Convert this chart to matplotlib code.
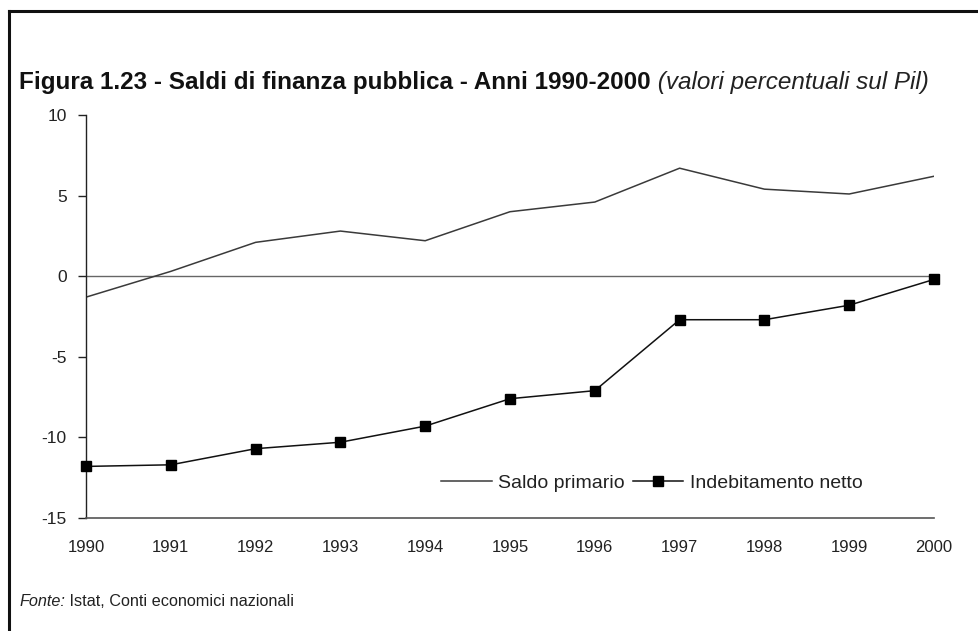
import matplotlib
matplotlib.use("Agg")
import matplotlib.pyplot as plt
from matplotlib.lines import Line2D

plt.rcParams['font.family'] = ['Liberation Sans', 'DejaVu Sans']

years = [1990, 1991, 1992, 1993, 1994, 1995, 1996, 1997, 1998, 1999, 2000]
saldo_primario = [-1.3, 0.3, 2.1, 2.8, 2.2, 4.0, 4.6, 6.7, 5.4, 5.1, 6.2]
indebitamento_netto = [-11.8, -11.7, -10.7, -10.3, -9.3, -7.6, -7.1, -2.7, -2.7, -1.8, -0.2]
y_ticks = [10, 5, 0, -5, -10, -15]

W, H = 979, 631
fig = plt.figure(figsize=(W / 100, H / 100), dpi=100)

# axes box in pixel coordinates
x0, x1 = 86, 934
y_top, y_bot = 115, 518
ax = fig.add_axes([x0 / W, 1 - y_bot / H, (x1 - x0) / W, (y_bot - y_top) / H])

ax.axhline(0, color='#666666', lw=1.0, zorder=1)
ax.plot(years, saldo_primario, color='#3a3a3a', lw=1.1, zorder=2,
        label='Saldo primario')
ax.plot(years, indebitamento_netto, color='#111111', lw=1.1, marker='s',
        markersize=7.5, markerfacecolor='#000000', markeredgecolor='#000000',
        zorder=3, label='Indebitamento netto', clip_on=False)

ax.set_xlim(years[0], years[-1])
ax.set_ylim(-15, 10)
ax.set_xticks(years)
ax.set_xticklabels([str(y) for y in years])
ax.set_yticks(y_ticks)
ax.set_yticklabels([str(t) for t in y_ticks])

for s in ('top', 'right'):
    ax.spines[s].set_visible(False)
ax.spines['left'].set_color('#222222')
ax.spines['bottom'].set_color('#555555')
ax.spines['left'].set_linewidth(1.0)
ax.spines['bottom'].set_linewidth(1.2)

ax.tick_params(axis='y', direction='out', length=6, width=1.0, color='#222222',
               labelsize=12.5, labelcolor='#222222', pad=8)
ax.tick_params(axis='x', length=0, labelsize=12, labelcolor='#222222', pad=16)

leg = fig.legend(handles=ax.get_lines()[1:], loc='center left',
                 bbox_to_anchor=(441 / W, 1 - 483 / H), ncol=2, frameon=False,
                 fontsize=14, handlelength=2.6, columnspacing=0.4,
                 handletextpad=0.35, borderpad=0, borderaxespad=0)
for t in leg.get_texts():
    t.set_color('#222222')

# title: bold part followed by italic subtitle
ty = 1 - 82 / H
t1 = fig.text(19 / W, ty, 'Figura 1.23 - Saldi di finanza pubblica - Anni 1990-2000',
              fontsize=17.5, fontweight='bold', color='#111111', va='center', ha='left')
fig.canvas.draw()
bb = t1.get_window_extent()
fig.text(bb.x1 / W, ty, ' (valori percentuali sul Pil)',
         fontsize=17.5, fontstyle='italic', color='#222222', va='center', ha='left')

# source note
sy = 1 - 601 / H
s1 = fig.text(19 / W, sy, 'Fonte:', fontsize=11.7, fontstyle='italic',
              color='#222222', va='center', ha='left')
fig.canvas.draw()
sb = s1.get_window_extent()
fig.text(sb.x1 / W, sy, ' Istat, Conti economici nazionali', fontsize=11.7,
         color='#222222', va='center', ha='left')

# frame lines
fig.add_artist(Line2D([9 / W, 9 / W], [0, 1 - 11 / H], transform=fig.transFigure,
                      color='#111111', lw=2.2))
fig.add_artist(Line2D([9 / W, 1], [1 - 11 / H, 1 - 11 / H], transform=fig.transFigure,
                      color='#111111', lw=2.2))

fig.savefig('out.png', dpi=100)
